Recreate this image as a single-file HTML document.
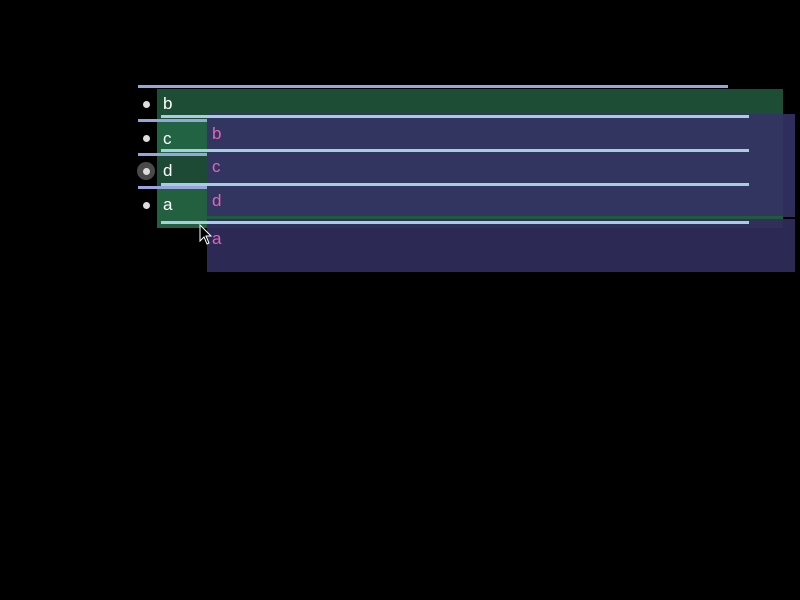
<!DOCTYPE html>
<html><head><style>
body{margin:0;width:800px;height:600px;background:#000;position:relative;overflow:hidden;font-family:"Liberation Sans",sans-serif}
div{position:absolute}
.t{color:#fff;font-size:17px}
.p{color:#e066b8;font-size:17px}
.bl{height:3px;background:#98a4dc}
.ln{height:3px;background:#a6cde0}
.dot{width:7px;height:7px;border-radius:50%;background:#ddd}
</style></head><body>
<div style="left:157px;top:89px;width:626px;height:139px;background:#1e4d36"></div>
<div style="left:157px;top:120px;width:50px;height:33px;background:#226344"></div>
<div style="left:157px;top:155px;width:50px;height:32px;background:#1c4a34"></div>
<div style="left:157px;top:189px;width:50px;height:39px;background:#22603f"></div>
<div class="bl" style="left:138px;top:85px;width:590px"></div>
<div class="bl" style="left:138px;top:119px;width:69px"></div>
<div class="bl" style="left:138px;top:153px;width:69px"></div>
<div class="bl" style="left:138px;top:186px;width:69px"></div>
<div class="dot" style="left:143px;top:101px"></div>
<div class="dot" style="left:143px;top:135px"></div>
<div style="left:137px;top:162px;width:18px;height:18px;border-radius:50%;background:#4a4a4a"></div>
<div class="dot" style="left:143px;top:168px"></div>
<div class="dot" style="left:143px;top:202px"></div>
<div class="t" style="left:163px;top:94px">b</div>
<div class="t" style="left:163px;top:129px">c</div>
<div class="t" style="left:163px;top:161px">d</div>
<div class="t" style="left:163px;top:195px">a</div>
<div style="left:207px;top:114px;width:588px;height:103px;background:#2f2d5b"></div>
<div style="left:207px;top:114px;width:576px;height:103px;background:#31355f"></div>
<div style="left:207px;top:216px;width:576px;height:3px;background:#1e5a3c"></div>
<div style="left:207px;top:219px;width:588px;height:53px;background:#2c2a55"></div>
<div style="left:207px;top:219px;width:576px;height:9px;background:#302f5b"></div>
<div class="ln" style="left:161px;top:115px;width:588px"></div>
<div class="ln" style="left:161px;top:149px;width:588px"></div>
<div class="ln" style="left:161px;top:183px;width:588px"></div>
<div class="ln" style="left:161px;top:221px;width:588px"></div>
<div class="p" style="left:212px;top:124px">b</div>
<div class="p" style="left:212px;top:157px">c</div>
<div class="p" style="left:212px;top:191px">d</div>
<div class="p" style="left:212px;top:229px">a</div>
<svg style="position:absolute;left:199px;top:224px" width="14" height="22"><path d="M1 1 L1 17 L5 13 L8 20 L10 19 L7 12 L12 12 Z" fill="#000" stroke="#fff" stroke-width="1"/></svg>
</body></html>
